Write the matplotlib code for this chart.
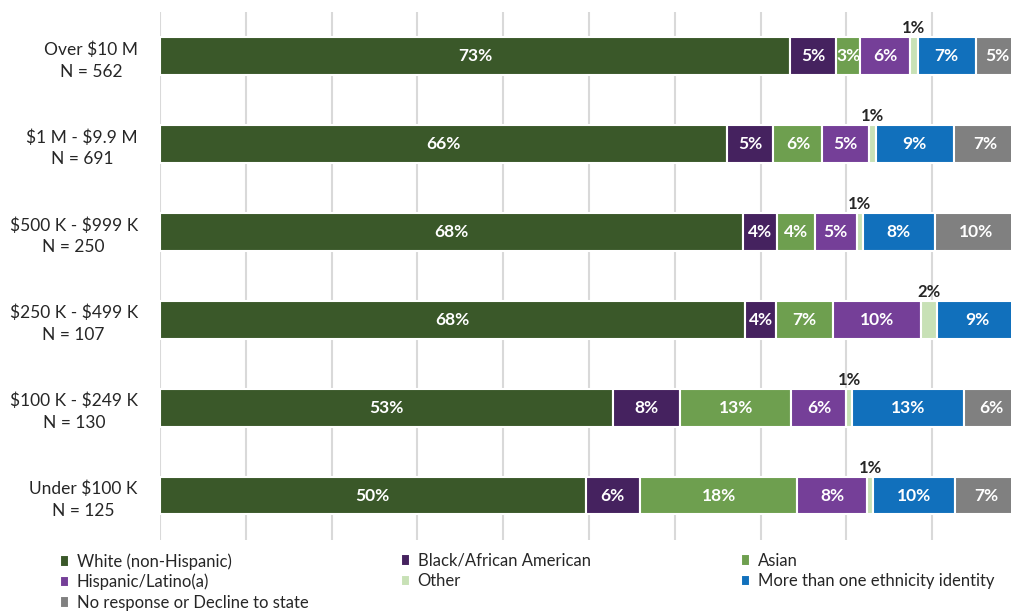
import matplotlib
matplotlib.use('Agg')
import numpy as np
import matplotlib.pyplot as plt

plt.rcParams['font.family'] = ['Lato', 'DejaVu Sans']

# categories (top to bottom) and sample sizes
categories = ['Over $10 M', '$1 M - $9.9 M', '$500 K - $999 K',
              '$250 K - $499 K', '$100 K - $249 K', 'Under $100 K']
n_sizes = [562, 691, 250, 107, 130, 125]

# percentages per ethnicity group
white = [73.4, 66.1, 68.0, 68.2, 52.8, 49.6]
black = [5.4, 5.4, 3.9, 3.6, 7.8, 6.3]
asian = [2.8, 5.7, 4.4, 6.6, 13.0, 18.4]
hispanic = [5.8, 5.4, 4.9, 10.3, 6.4, 8.1]
other = [0.9, 0.8, 0.7, 1.9, 0.7, 0.7]
multi = [6.8, 9.1, 8.4, 9.4, 13.0, 9.6]
no_resp = [4.9, 7.4, 9.6, 0.0, 6.3, 7.3]

series_names = ['White (non-Hispanic)', 'Black/African American', 'Asian',
                'Hispanic/Latino(a)', 'Other', 'More than one ethnicity identity',
                'No response or Decline to state']
series = [white, black, asian, hispanic, other, multi, no_resp]
colors = ['#3A5829', '#45225F', '#6E9F4F', '#753F98', '#C8E1B6', '#1170BC', '#808080']

fig = plt.figure(figsize=(10.11, 6.12), dpi=100)
# axis runs a bit past the right edge of the picture, like the original
ax = fig.add_axes([160 / 1011, 1 - 539.5 / 612, 858 / 1011, 527.5 / 612])

y = np.arange(len(categories))
left = np.zeros(len(categories))
bars = []
for name, vals, col in zip(series_names, series, colors):
    vals = np.array(vals)
    b = ax.barh(y, vals, left=left, height=0.43, color=col,
                edgecolor='white', linewidth=1.5, label=name, zorder=2)
    bars.append(b)
    for yi, (l, v) in enumerate(zip(left, vals)):
        if v <= 0:
            continue
        txt = f"{round(v)}%"
        if name == 'Other':
            ax.text(l + v / 2, yi - 0.225, txt, ha='center', va='bottom',
                    fontsize=12, fontweight='bold', color='#262626', zorder=3)
        else:
            ax.text(l + v / 2, yi, txt, ha='center', va='center',
                    fontsize=12.5, fontweight='bold', color='white', zorder=3)
    left = left + vals

ax.set_xlim(0, 100)
ax.set_ylim(len(categories) - 0.5, -0.5)
ax.set_xticks(np.arange(0, 101, 10))
ax.xaxis.grid(True, color='#D9D9D9', linewidth=1.5, zorder=0)
ax.set_axisbelow(True)
ax.tick_params(axis='x', length=0, labelbottom=False)
ax.tick_params(axis='y', length=0, pad=16)
ax.set_yticks(y)
ylabels = [f"{c}\nN = {n}".replace('$', r'\$') for c, n in zip(categories, n_sizes)]
ax.set_yticklabels(ylabels, fontsize=12.5, color='#262626', linespacing=1.45)
for t in ax.get_yticklabels():
    t.set_multialignment('center')
for s in ax.spines.values():
    s.set_visible(False)

# legend in three columns, read row by row
cols = [[0, 3, 6], [1, 4], [2, 5]]
col_x = [60, 401, 741]
for idx, cx in zip(cols, col_x):
    fig.legend([bars[i] for i in idx], [series_names[i] for i in idx],
               loc='upper left', bbox_to_anchor=(cx / 1011, 1 - 553 / 612),
               frameon=False, fontsize=12, handlelength=0.55, handleheight=0.7,
               handletextpad=0.45, labelspacing=0.26, borderpad=0, borderaxespad=0,
               labelcolor='#262626')

fig.savefig('out.png', dpi=100)
